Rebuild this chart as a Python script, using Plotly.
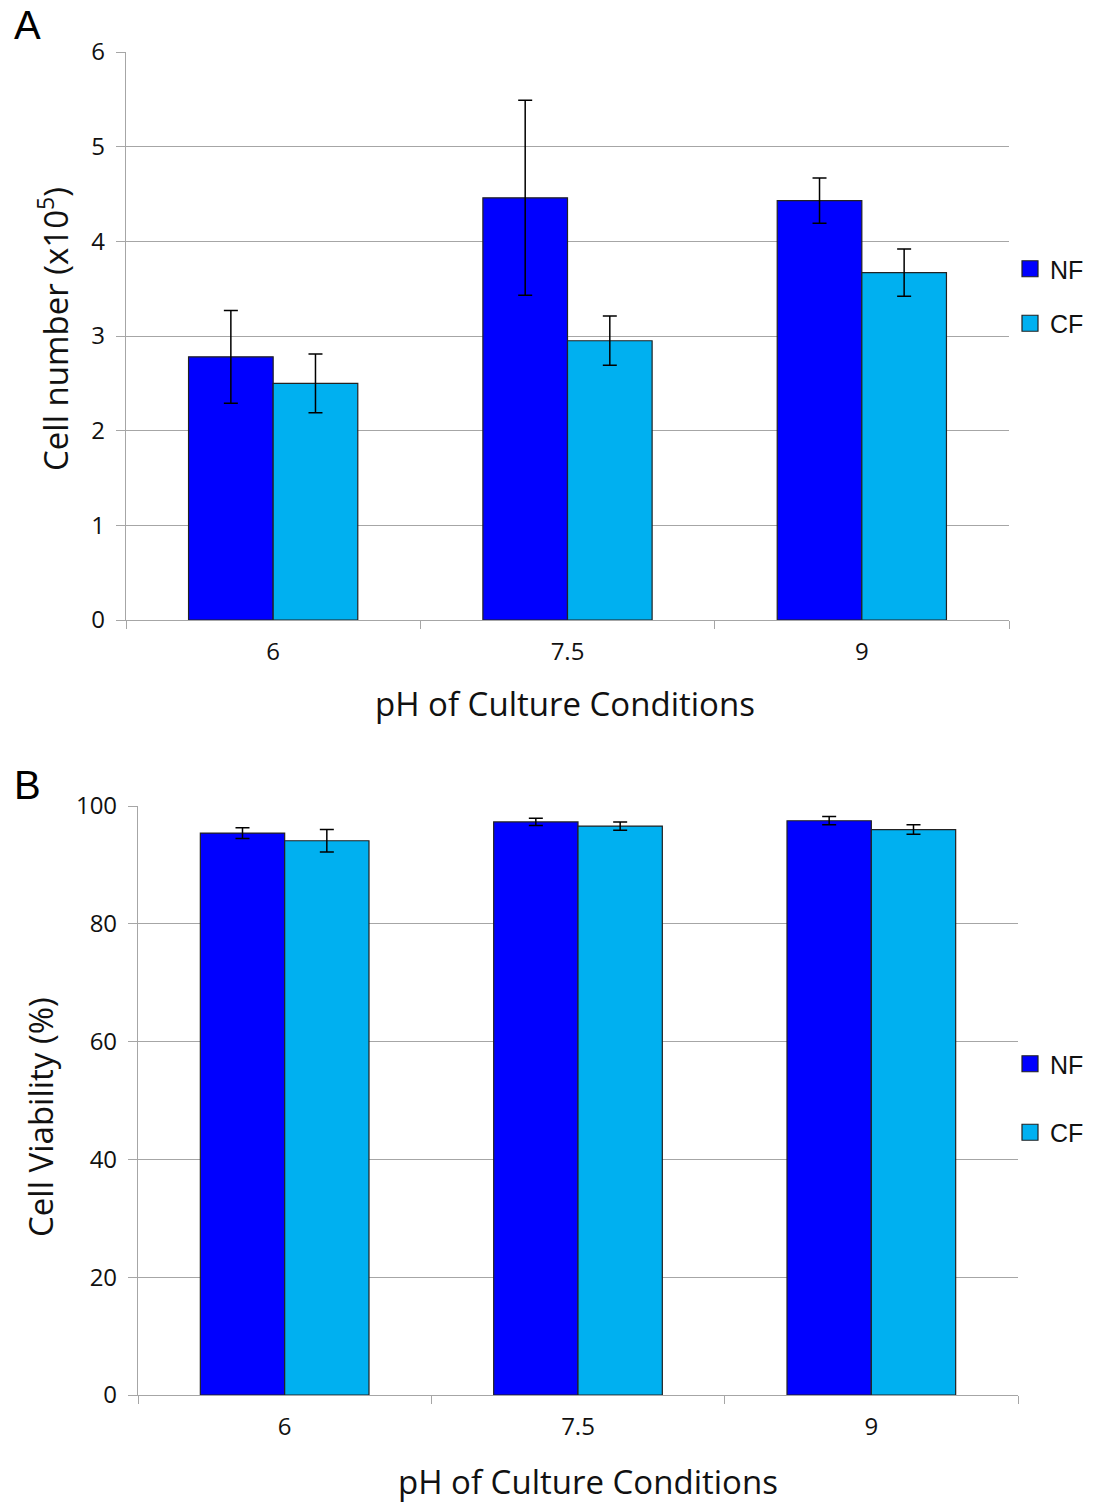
import plotly.graph_objects as go

W, H = 1101, 1505

ph = ["6", "7.5", "9"]
nf_count = [2.78, 4.46, 4.43]
nf_count_err = [0.49, 1.03, 0.24]
cf_count = [2.50, 2.95, 3.67]
cf_count_err = [0.31, 0.26, 0.25]
nf_viab = [95.4, 97.3, 97.5]
nf_viab_err = [0.9, 0.6, 0.7]
cf_viab = [94.1, 96.6, 96.0]
cf_viab_err = [1.9, 0.7, 0.8]

NF_COL = "#0000FF"
CF_COL = "#00B0F0"
GRID = "#A6A6A6"
TICKFONT = dict(family="Open Sans", size=24, color="#111")
TITLEFONT = dict(family="Open Sans", size=33, color="#111")
LEGFONT = dict(family="Liberation Sans", size=25, color="#111")


def px(x):
    return x / W


def py(y):
    return 1 - y / H


def bar(name, x, y, err, col, xa, ya):
    return go.Bar(
        name=name, x=x, y=y, xaxis=xa, yaxis=ya, showlegend=False,
        marker=dict(color=col, line=dict(color="#222", width=1.2)),
        error_y=dict(type="data", array=err, visible=True, color="#000",
                     thickness=1.5, width=7),
    )


def legend_key(name, col, leg, group):
    return go.Scatter(
        name=name, x=[None], y=[None], mode="markers", legend=leg,
        legendgroup=group, showlegend=True, hoverinfo="skip",
        marker=dict(symbol="square", size=16, color=col,
                    line=dict(color="#222", width=1.2)),
    )


fig = go.Figure()
fig.add_trace(bar("NF", ph, nf_count, nf_count_err, NF_COL, "x", "y"))
fig.add_trace(bar("CF", ph, cf_count, cf_count_err, CF_COL, "x", "y"))
fig.add_trace(bar("NF", ph, nf_viab, nf_viab_err, NF_COL, "x2", "y2"))
fig.add_trace(bar("CF", ph, cf_viab, cf_viab_err, CF_COL, "x2", "y2"))
fig.add_trace(legend_key("NF", NF_COL, "legend", "a_nf"))
fig.add_trace(legend_key("CF", CF_COL, "legend", "a_cf"))
fig.add_trace(legend_key("NF", NF_COL, "legend2", "b_nf"))
fig.add_trace(legend_key("CF", CF_COL, "legend2", "b_cf"))

xcommon = dict(type="category", tickson="boundaries", ticks="outside", ticklen=8,
               tickcolor=GRID, showline=True, linecolor=GRID, linewidth=1.2,
               showgrid=False, tickfont=TICKFONT, ticklabelstandoff=10,
               automargin=False)
ycommon = dict(showgrid=True, gridcolor=GRID, gridwidth=1.2, showline=True,
               linecolor=GRID, linewidth=1.2, ticks="outside", ticklen=9,
               tickcolor=GRID, zeroline=False, tickfont=TICKFONT,
               ticklabelstandoff=6, automargin=False)

fig.update_layout(
    width=W, height=H, margin=dict(l=0, r=0, t=0, b=0, autoexpand=False),
    paper_bgcolor="white", plot_bgcolor="white",
    barmode="group", bargap=0.425, bargroupgap=0,
    xaxis=dict(domain=[px(126), px(1009)], anchor="y", **xcommon),
    yaxis=dict(domain=[py(620), py(52)], anchor="x", range=[0, 6], dtick=1, **ycommon),
    xaxis2=dict(domain=[px(138), px(1018)], anchor="y2", **xcommon),
    yaxis2=dict(domain=[py(1395), py(806)], anchor="x2", range=[0, 100], dtick=20, **ycommon),
    legend=dict(x=px(1010), y=py(296), xanchor="left", yanchor="middle",
                font=LEGFONT, tracegroupgap=19, bgcolor="rgba(0,0,0,0)"),
    legend2=dict(x=px(1010), y=py(1098), xanchor="left", yanchor="middle",
                 font=LEGFONT, tracegroupgap=33, bgcolor="rgba(0,0,0,0)"),
    showlegend=True,
)

annots = [
    dict(text="A", x=px(27), y=py(25), font=dict(family="Liberation Sans", size=40, color="#000")),
    dict(text="B", x=px(27), y=py(785), font=dict(family="Liberation Sans", size=40, color="#000")),
    dict(text="pH of Culture Conditions", x=px(565), y=py(703), font=TITLEFONT),
    dict(text="Cell number (x10<sup>5</sup>)", x=px(53), y=py(329), textangle=-90, font=TITLEFONT),
    dict(text="Cell Viability (%)", x=px(40), y=py(1117), textangle=-90, font=TITLEFONT),
]
for a in annots:
    fig.add_annotation(xref="paper", yref="paper", showarrow=False,
                       xanchor="center", yanchor="middle", **a)
fig.add_annotation(xref="paper", yref="paper", showarrow=False, text="pH of Culture Conditions",
                   x=px(588), y=0.0, xanchor="center", yanchor="bottom", borderpad=0,
                   font=TITLEFONT)

fig.write_html("out.html")
